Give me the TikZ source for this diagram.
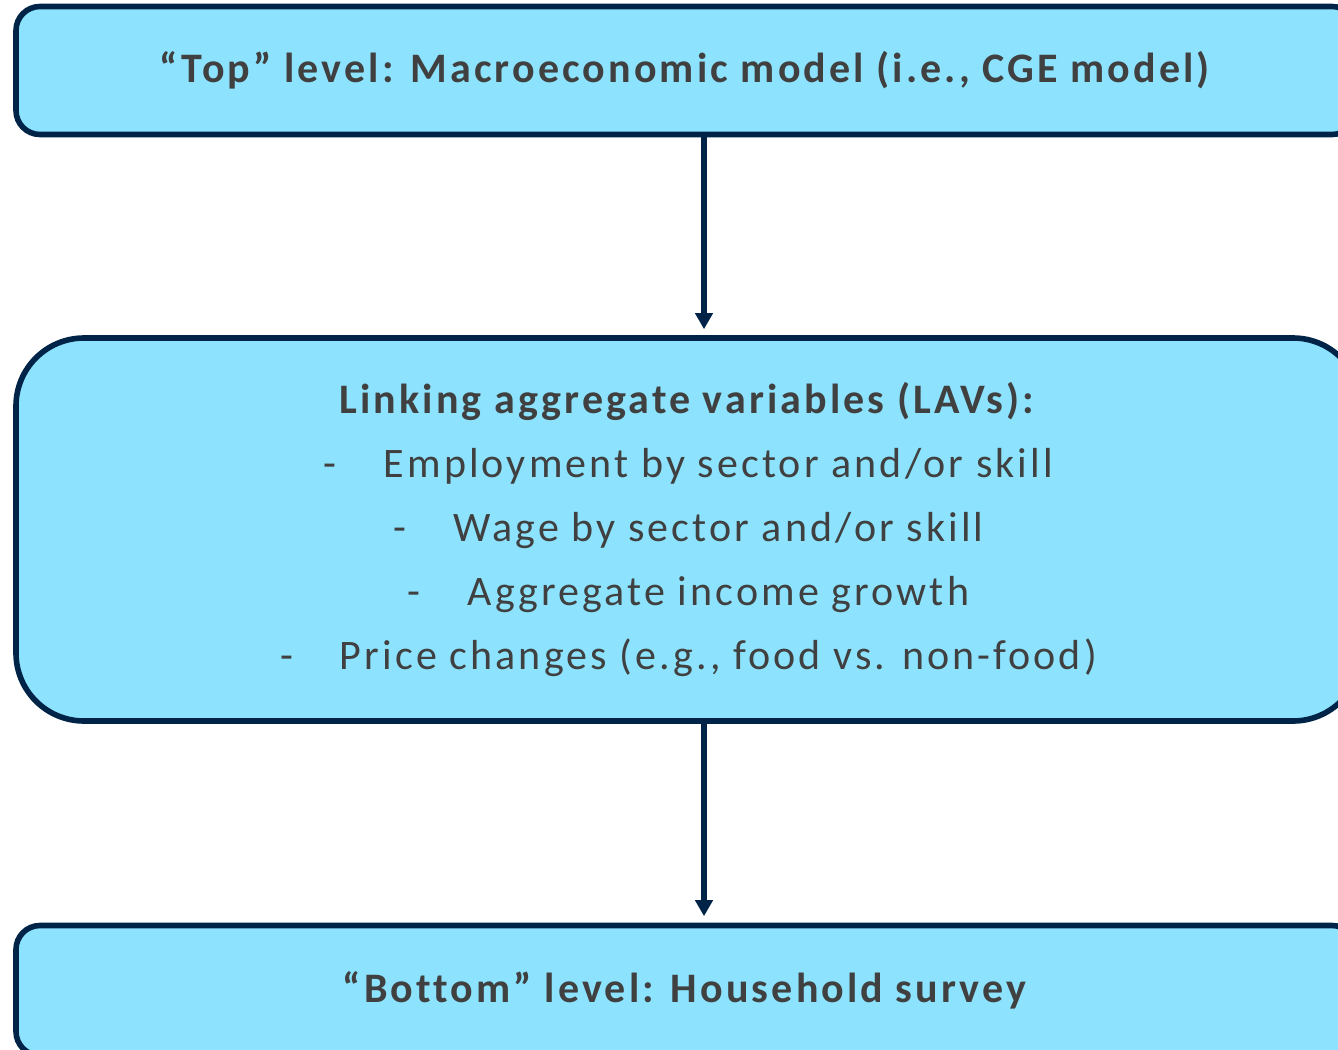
\documentclass[tikz,border=0pt]{standalone}
\usepackage{fontspec}
\setmainfont{Carlito}[LetterSpace=7.4, Ligatures=NoCommon]
\usetikzlibrary{arrows.meta}
\definecolor{boxfill}{HTML}{8DE3FE}
\definecolor{navy}{HTML}{002447}
\definecolor{txt}{HTML}{404040}
\begin{document}
\begin{tikzpicture}[x=1pt,y=-1pt,
  box/.style={draw=navy, line width=5.6pt, fill=boxfill, text=txt, inner sep=0pt, align=center, font=\fontsize{42}{64}\selectfont},
  flow/.style={draw=navy, line width=5.6pt, -{Triangle[width=17pt,length=16pt]}}]
\useasboundingbox (0,0) rectangle (1338,1049);
\clip (0,0) rectangle (1338,1049);
\node[box, rounded corners=24pt, minimum width=1340pt, minimum height=128pt] (top) at (686,70.5) {\textbf{“Top” level: Macroeconomic model (i.e., CGE model)}};
\node[box, rounded corners=68pt, minimum width=1345pt, minimum height=383pt] (mid) at (688.5,529.5) {\textbf{Linking aggregate variables (LAVs):}\\
-\hspace{47pt}Employment by sector and/or skill\\
-\hspace{47pt}Wage by sector and/or skill\\
-\hspace{47pt}Aggregate income growth\\
-\hspace{47pt}Price changes (e.g., food vs. non-food)};
\node[box, rounded corners=24pt, minimum width=1340pt, minimum height=130pt] (bot) at (686,990.5) {\textbf{“Bottom” level: Household survey}};
\coordinate (ax) at (704,0);
\draw[flow, shorten >=6pt] (top.south -| ax) -- (mid.north -| ax);
\draw[flow, shorten >=6.5pt] (mid.south -| ax) -- (bot.north -| ax);
\end{tikzpicture}
\end{document}
